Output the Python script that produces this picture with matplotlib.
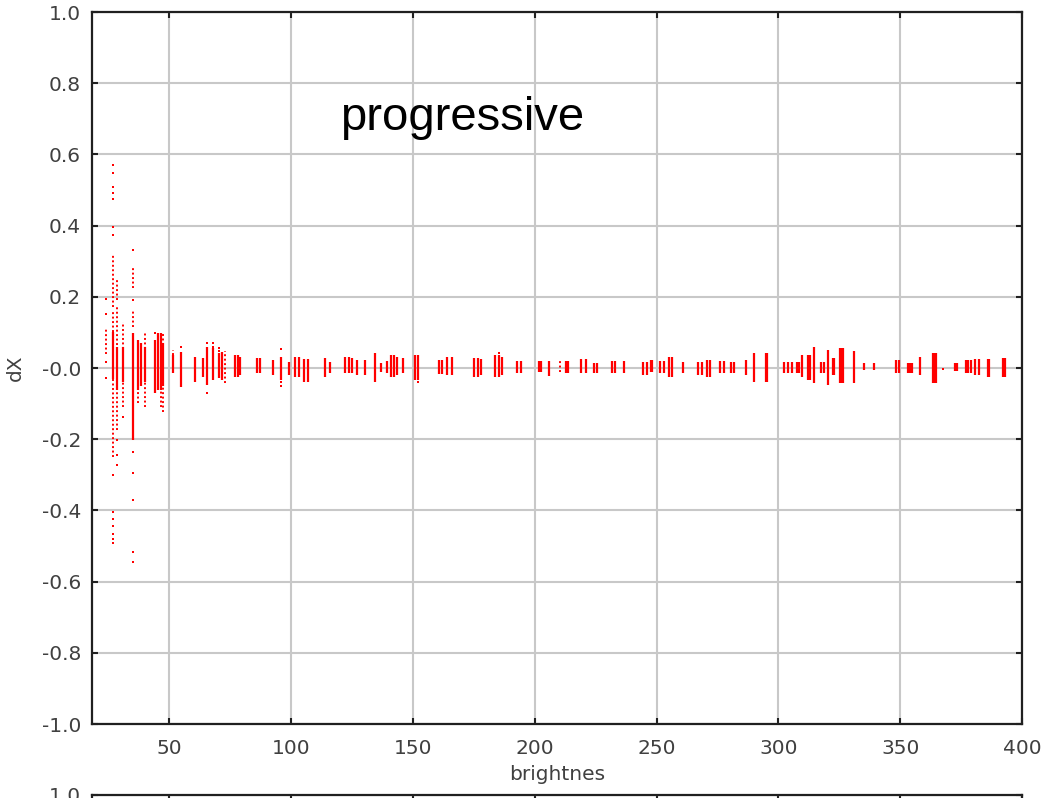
"""dX against brightness, progressive"""

import matplotlib.pyplot as plt

# solid columns: brightness, dX top, dX bottom
bar_x = [27, 28.5, 31, 35, 37, 38.5, 40, 44, 45.5, 46.5, 47.5, 51.4, 54.8,
         60.3, 63.6, 65.4, 67.8, 70.4, 71.5, 77, 78, 79, 85.9, 87, 92.4,
         95.9, 98.9, 101.7, 103, 105.1, 106.7, 113.7, 115.8, 122, 123.5,
         125, 127, 130.4, 134.5, 136.9, 139.3, 141, 142.2, 143.4, 145.9,
         151, 152, 160.6, 162, 164, 166,
         175, 176.5, 178, 183.8, 185.2, 186.5, 192.7, 194.3, 201.9, 202.7,
         205.7, 212.6, 213.5, 219, 220.8, 224.2, 225.6, 231.7, 233.1, 236.5,
         244.5, 246, 247.5, 248.2, 251.3, 253, 255, 256.4, 260.9, 267,
         268.7, 270.8, 272.1, 276, 277.6, 280.4, 281.7, 286.8, 290,
         294.8, 295.4, 302.3, 304, 305.7, 307.8, 308.5, 309.8, 312.2, 313,
         314.6, 317.4, 318.7, 320.4, 322.2, 322.8, 325.3, 326, 326.7, 331,
         335.2, 339.3, 348.2, 349.6, 353, 354, 355, 358.2, 363.3, 364, 364.6,
         372.4, 373.3, 377, 378, 379, 380.7, 382.4, 385.9, 386.5, 392, 393]
bar_hi = [0.10, 0.059, 0.06, 0.098, 0.079, 0.07, 0.06, 0.079, 0.098, 0.098, 0.07, 0.037, 0.046,
          0.032, 0.027, 0.060, 0.055, 0.041, 0.046, 0.037, 0.037, 0.030, 0.027, 0.027, 0.022,
          0.032, 0.018, 0.032, 0.032, 0.024, 0.024, 0.027, 0.018, 0.032, 0.032,
          0.028, 0.022, 0.022, 0.043, 0.013, 0.021, 0.037, 0.037, 0.030, 0.027,
          0.037, 0.037, 0.022, 0.022, 0.032, 0.032,
          0.027, 0.027, 0.024, 0.037, 0.037, 0.030, 0.021, 0.021, 0.021, 0.021,
          0.021, 0.021, 0.021, 0.024, 0.024, 0.015, 0.015, 0.021, 0.021, 0.021,
          0.018, 0.018, 0.022, 0.022, 0.021, 0.021, 0.032, 0.032, 0.018, 0.018,
          0.018, 0.022, 0.022, 0.021, 0.021, 0.018, 0.018, 0.022, 0.043,
          0.043, 0.043, 0.018, 0.018, 0.018, 0.018, 0.018, 0.037, 0.037, 0.037,
          0.060, 0.018, 0.018, 0.051, 0.027, 0.027, 0.055, 0.055, 0.055, 0.049,
          0.015, 0.015, 0.022, 0.022, 0.015, 0.015, 0.015, 0.032, 0.043, 0.043, 0.043,
          0.015, 0.015, 0.022, 0.022, 0.022, 0.024, 0.024, 0.024, 0.024, 0.027, 0.027]
bar_lo = [-0.03, -0.062, -0.04, -0.202, -0.062, -0.05, -0.04, -0.07, -0.062, -0.062, -0.05, -0.015, -0.054,
          -0.038, -0.024, -0.048, -0.034, -0.029, -0.034, -0.024, -0.024, -0.020, -0.015, -0.015, -0.020,
          -0.034, -0.020, -0.024, -0.024, -0.038, -0.038, -0.024, -0.015, -0.015, -0.015,
          -0.015, -0.020, -0.020, -0.038, -0.010, -0.015, -0.024, -0.024, -0.020, -0.015,
          -0.034, -0.034, -0.017, -0.017, -0.020, -0.020,
          -0.024, -0.024, -0.020, -0.024, -0.024, -0.020, -0.015, -0.015, -0.010, -0.010,
          -0.022, -0.015, -0.015, -0.015, -0.015, -0.015, -0.015, -0.015, -0.015, -0.015,
          -0.020, -0.020, -0.010, -0.010, -0.013, -0.013, -0.024, -0.024, -0.015, -0.020,
          -0.020, -0.024, -0.024, -0.015, -0.015, -0.015, -0.015, -0.020, -0.038,
          -0.038, -0.038, -0.015, -0.015, -0.015, -0.015, -0.015, -0.024, -0.034, -0.034,
          -0.043, -0.015, -0.015, -0.048, -0.020, -0.020, -0.043, -0.043, -0.043, -0.043,
          -0.006, -0.006, -0.013, -0.013, -0.013, -0.013, -0.013, -0.020, -0.043, -0.043, -0.043,
          -0.007, -0.007, -0.015, -0.015, -0.015, -0.020, -0.020, -0.024, -0.024, -0.024, -0.024]

# dotted columns (points spaced out)
dot_x = [24, 27, 27, 27, 28.5, 28.5, 31, 35, 35, 37, 40, 47.5, 46.5, 51.4, 72.9, 210.2]
dot_hi = [0.11, 0.317, 0.163, -0.03, 0.247, 0.171, 0.129, 0.284, 0.163, 0.079, 0.098, 0.098, -0.062, 0.05, 0.049, 0.021]
dot_lo = [0.04, 0.171, 0.10, -0.25, 0.191, -0.174, -0.11, 0.225, 0.115, -0.098, -0.11, -0.124, -0.11, 0.037, -0.043, -0.010]

# single points
pt_x = [24, 24, 24, 24,
        27, 27, 27, 27, 27, 27, 27, 27, 27, 27, 27, 27, 27, 27,
        28.5, 28.5, 28.5, 31,
        35, 35, 35, 35, 35, 35, 35,
        44, 54.8, 65.4, 65.4, 67.8, 67.8, 70.4, 70.4,
        95.9, 95.9, 95.9, 152, 185.2, 367.4]
pt_y = [0.194, 0.152, 0.017, -0.028,
        0.570, 0.548, 0.508, 0.492, 0.475, 0.396, 0.374, -0.301, -0.404, -0.425,
        -0.445, -0.465, -0.480, -0.492,
        -0.202, -0.244, -0.272, -0.138,
        0.331, 0.191, -0.236, -0.295, -0.371, -0.517, -0.545,
        0.098, 0.060, 0.071, -0.071, 0.069, 0.058, 0.055, 0.048,
        0.053, -0.040, -0.050, -0.038, 0.041, -0.004]

y_ticks = [-1.0, -0.8, -0.6, -0.4, -0.2, 0.0, 0.2, 0.4, 0.6, 0.8, 1.0]
y_labels = ['-1.0', '-0.8', '-0.6', '-0.4', '-0.2', '-0.0', '0.2', '0.4', '0.6', '0.8', '1.0']
x_ticks = [50, 100, 150, 200, 250, 300, 350, 400]

red = '#ff0000'
tick_col = '#404040'


def style_axes(ax, ylabels):
    ax.set_xlim(18.2, 400)
    ax.set_ylim(-1, 1)
    ax.set_xticks(x_ticks)
    ax.set_yticks(y_ticks)
    ax.set_yticklabels(ylabels)
    ax.grid(True, color='#c8c8c8', linewidth=1.5)
    ax.set_axisbelow(True)
    for s in ax.spines.values():
        s.set_linewidth(1.6)
        s.set_color('#202020')
    ax.tick_params(direction='in', length=4, width=1.5, top=True, right=True,
                   labelsize=14.5, labelcolor=tick_col, color='#202020')
    ax.tick_params(axis='x', pad=11)
    ax.tick_params(axis='y', pad=8)


fig = plt.figure(figsize=(10.49, 7.98), dpi=100)
ax = fig.add_axes([0.0877, 0.0927, 0.8866, 0.8922])
style_axes(ax, y_labels)

ax.vlines(bar_x, bar_lo, bar_hi, colors=red, linewidth=1.6)
ax.vlines(dot_x, dot_lo, dot_hi, colors=red, linewidth=1.4, linestyles=(0, (1, 1.3)))
ax.scatter(pt_x, pt_y, s=3.5, marker='s', color=red, linewidths=0)

ax.set_xlabel('brightnes', fontsize=14.5, color=tick_col, labelpad=5)
ax.set_ylabel('dX', fontsize=14.5, color=tick_col, labelpad=12)

fig.text(340 / 1049, 1 - 130 / 798, 'progressive', fontsize=34,
         family='Liberation Sans', ha='left', va='baseline')

# next panel, only its top edge is on the page
ax2 = fig.add_axes([0.0877, -0.9, 0.8866, 0.9038])
style_axes(ax2, [''] * 10 + ['1.0'])
ax2.set_xticklabels([])

fig.savefig('out.png', dpi=100)
plt.close()
